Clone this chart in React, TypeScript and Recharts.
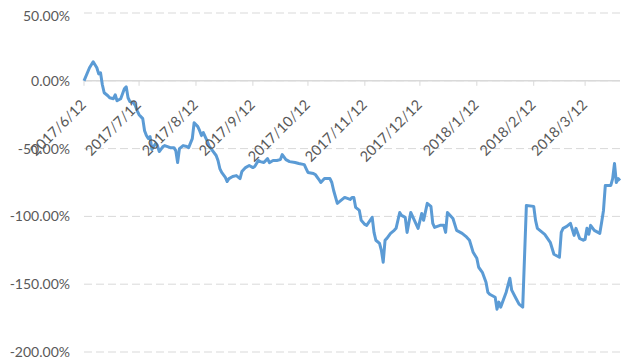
import React from "react";
import {
  LineChart,
  Line,
  XAxis,
  YAxis,
  CartesianGrid,
  ReferenceLine,
} from "recharts";

// days since 2017/6/12
const days = [
  0, 3, 5, 7, 8, 9, 10, 11, 13, 14, 16, 17, 18, 20, 21, 22, 23, 24, 25, 27,
  28, 29, 30, 32, 33, 34, 35, 36, 37, 39, 40, 41, 43, 44, 47, 49, 50, 51, 52,
  54, 56, 57, 59, 60, 62, 63, 64, 65, 67, 68, 70, 72, 73, 74, 75, 77, 78, 79,
  81, 83, 85, 86, 88, 90, 92, 93, 95, 96, 98, 100, 101, 103, 105, 107, 108,
  110, 112, 115, 117, 120, 121, 122, 125, 126, 128, 129, 131, 134, 135, 136,
  138, 140, 142, 145, 146, 147, 148, 150, 151, 153, 154, 157, 158, 159, 161,
  162, 163, 164, 165, 167, 169, 170, 172, 173, 175, 176, 178, 180, 182, 184,
  185, 187, 189, 190, 191, 194, 196, 197, 198, 201, 203, 206, 208, 210, 212,
  214, 215, 217, 219, 220, 221, 224, 225, 226, 227, 230, 232, 233, 235, 237,
  239, 241, 245, 246, 247, 251, 254, 256, 259, 260, 261, 263, 265, 267, 268,
  270, 272, 273, 274, 275, 276, 278, 281, 282, 283, 284, 287, 288, 289, 290,
  291, 292,
];

// cumulative return, %
const returns = [
  0, 9.6, 14.0, 9.6, 5.1, 5.9, -2.9, -8.8, -11.0, -12.5, -13.2, -10.3, -14.7,
  -13.2, -9.6, -5.9, -4.4, -12.5, -15.4, -16.2, -18.4, -22.1, -25.0, -27.9,
  -36.8, -40.4, -42.6, -41.2, -50.7, -46.3, -47.8, -52.2, -48.5, -47.8, -49.3,
  -49.3, -51.5, -60.3, -50.0, -47.8, -48.5, -49.3, -42.6, -30.9, -33.8, -36.8,
  -40.4, -38.2, -44.1, -47.8, -51.5, -55.1, -58.8, -64.7, -67.6, -71.3, -74.3,
  -72.1, -70.6, -69.9, -72.1, -66.9, -64.0, -62.5, -64.0, -63.2, -58.8, -59.6,
  -60.3, -57.4, -60.3, -58.8, -58.8, -58.1, -54.4, -58.1, -59.6, -60.3, -61.0,
  -61.8, -64.7, -67.6, -68.4, -69.1, -72.8, -75.0, -72.1, -72.1, -75.0, -80.9,
  -90.4, -88.2, -86.0, -87.5, -86.0, -86.0, -93.4, -95.6, -102.9, -105.9,
  -106.6, -100.7, -111.8, -117.6, -119.9, -125.0, -133.8, -117.6, -116.2,
  -112.5, -110.3, -108.8, -97.1, -99.3, -100.7, -111.8, -97.1, -102.9, -108.8,
  -97.8, -102.9, -90.4, -92.6, -105.1, -108.1, -106.6, -106.6, -111.8, -97.1,
  -101.5, -110.3, -112.5, -114.7, -117.6, -126.5, -130.9, -137.5, -141.2,
  -148.5, -155.9, -157.4, -159.6, -168.4, -163.2, -166.9, -155.9, -145.6,
  -154.4, -159.6, -164.7, -166.9, -91.9, -92.6, -102.9, -108.8, -113.2, -119.1,
  -127.9, -130.1, -111.8, -108.8, -107.4, -105.1, -114.0, -108.8, -116.2,
  -117.6, -116.9, -108.8, -113.2, -106.6, -110.3, -112.5, -104.4, -95.6, -77.2,
  -77.2, -72.1, -61.0, -75.0, -72.1, -73.5,
];

const tickDays = [0, 30, 61, 92, 122, 153, 183, 214, 245, 273];
const tickLabels = [
  "2017/6/12",
  "2017/7/12",
  "2017/8/12",
  "2017/9/12",
  "2017/10/12",
  "2017/11/12",
  "2017/12/12",
  "2018/1/12",
  "2018/2/12",
  "2018/3/12",
];
const yTicks = [-200, -150, -100, -50, 0, 50];

const data = days.map((d, i) => ({ day: d, value: returns[i] }));

const W = 625;
const H = 355;
const TOP = 5;
const BOTTOM = 11;
const Y_MIN = -200;
const Y_MAX = 50;
const plotH = H - TOP - BOTTOM;
// distance from the bottom of the plot up to the zero line
const zeroShift = (plotH * (0 - Y_MIN)) / (Y_MAX - Y_MIN);

const MonthTick = (props: any) => {
  const { x, y, payload } = props;
  const zy = y - zeroShift;
  const i = tickDays.indexOf(payload.value);
  const tx = x + 3;
  const ty = zy + 25;
  return (
    <g>
      <line x1={x} y1={zy} x2={x} y2={zy + 5} stroke="#D9D9D9" />
      <text
        x={tx}
        y={ty}
        textAnchor="end"
        fill="#595959"
        fontSize={14.5}
        transform={`rotate(-45, ${tx}, ${ty})`}
      >
        {tickLabels[i]}
      </text>
    </g>
  );
};

export default function App() {
  return (
    <div style={{ fontFamily: "Lato, sans-serif" }}>
      <LineChart
        width={W}
        height={H}
        data={data}
        margin={{ top: TOP, right: 13, left: 0, bottom: 0 }}
      >
        <CartesianGrid
          vertical={false}
          stroke="#D9D9D9"
          strokeDasharray="8 4"
        />
        <XAxis
          dataKey="day"
          type="number"
          domain={[0, 292]}
          ticks={tickDays}
          height={BOTTOM}
          tickSize={0}
          tickMargin={0}
          axisLine={false}
          tick={<MonthTick />}
          interval={0}
        />
        <YAxis
          domain={[Y_MIN, Y_MAX]}
          ticks={yTicks}
          width={76}
          axisLine={false}
          tickLine={false}
          tickSize={0}
          tickMargin={14}
          tick={{ fill: "#595959", fontSize: 14 }}
          tickFormatter={(v: number) => `${v.toFixed(2)}%`}
        />
        <ReferenceLine y={0} stroke="#D9D9D9" strokeWidth={1.5} />
        <Line
          dataKey="value"
          stroke="#5B9BD5"
          strokeWidth={3}
          dot={false}
          isAnimationActive={false}
          strokeLinejoin="round"
        />
      </LineChart>
    </div>
  );
}
